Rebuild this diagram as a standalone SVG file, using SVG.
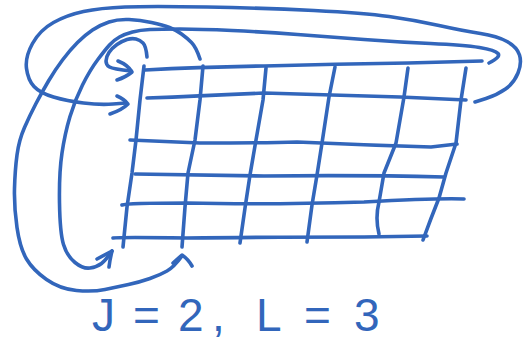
<svg xmlns="http://www.w3.org/2000/svg" width="528" height="349" viewBox="0 0 528 349">
<style>
.s{fill:none;stroke:#3266bb;stroke-width:3.6;stroke-linecap:round;stroke-linejoin:round}
.t{font-family:"Liberation Sans",Arial,sans-serif;font-size:46px;fill:#3266bb}
</style>
<rect width="528" height="349" fill="#fff"/>
<g id="grid">
<path class="s" d="M145,70 Q200,67 264,66 Q335,64 408,63 L482,61"/>
<path class="s" d="M147,98 Q200,96 264,93 Q331,95 400,97 L466,100"/>
<path class="s" d="M130,140 Q150,141 200,143 Q264,143 297,142 Q364,145 431,147 L457,144"/>
<path class="s" d="M135,174 Q187,175 264,176 Q364,175 444,177"/>
<path class="s" d="M122,205 Q127,203 187,203 Q264,205 364,202 Q437,198 464,199"/>
<path class="s" d="M113,238 Q120,237 187,238 Q264,237 364,237 L427,236"/>
<path class="s" d="M144,66 L140,100 L136,140 L132,173 L127,207 L123,247"/>
<path class="s" d="M203,66 L200,100 L195,140 L188,173 L185,207 L182,247"/>
<path class="s" d="M266,68 L263,100 L256,140 L250,175 L245,208 L240,243"/>
<path class="s" d="M335,67 L329,97 L322,143 L317,175 L312,205 L307,242"/>
<path class="s" d="M408,68 L404,97 L396,143 L384,173 L379,202 Q375,218 379,234"/>
<path class="s" d="M466,68 L461,100 L456,143 L446,173 L439,198 Q431,218 423,240"/>
</g>
<g id="connectors">
<path class="s" d="M475,102 L486,98.5 Q497,95 505.5,89 Q514,83 518,73 Q522,63 519.5,55 Q517,47 507,41.5 Q497,36 480.5,33.5 Q464,31 439,25.5 Q414,20 389,16.5 Q364,13 314,10.5 Q264,8 207,7 Q150,6 125,7 Q100,8 83.5,11.5 Q67,15 53.5,22.5 Q40,30 32.5,43.5 Q25,57 26.5,68.5 Q28,80 34,86.5 Q40,93 53.5,97 Q67,101 83.5,103 Q100,105 113,104 L126,103"/>
<path class="s" d="M117,96 Q124,99 128,104 Q122,110 110,114"/>
<path class="s" d="M200,59 Q196,47 191.5,42.5 Q187,38 181.5,34 Q176,30 169.5,27.5 Q163,25 151.5,22.5 Q140,20 129,19.5 Q118,19 109,22 Q100,25 92.5,30 Q85,35 77.5,42.5 Q70,50 62.5,60 Q55,70 48.5,81 Q42,92 36,103.5 Q30,115 24.5,127.5 Q19,140 17,155 Q15,170 14.5,188.5 Q14,207 17,227.5 Q20,248 26.5,259 Q33,270 46.5,279.5 Q60,289 76.5,290.5 Q93,292 105,289.5 Q117,287 128.5,284.5 Q140,282 150,278.5 Q160,275 167,271 Q174,267 182,256"/>
<path class="s" d="M173,263 L182,255 Q188,259 192,266"/>
<path class="s" d="M489,63 Q501,57 498,53.5 Q495,50 479.5,47.5 Q464,45 430.5,43.5 Q397,42 364,39.5 Q331,37 297.5,34.5 Q264,32 232,30.5 Q200,29 180,29 Q160,29 150,29.5 Q140,30 132.5,32 Q125,34 119.5,37 Q114,40 109.5,45 Q105,50 97.5,60 Q90,70 82.5,85 Q75,100 70,116.5 Q65,133 62,153 Q59,173 59.5,203 Q60,233 63.5,244.5 Q67,256 75,262.5 Q83,269 90,268 Q97,267 101.5,263.5 Q106,260 112,251"/>
<path class="s" d="M97,259 L112,251 Q110,259 109,267"/>
<path class="s" d="M147,57 Q146,46 143,43 Q140,40 136,39 Q132,38 127,39.5 Q122,41 117,44.5 Q112,48 109,52.5 Q106,57 106,61 Q106,65 109.5,67 Q113,69 131,71"/>
<path class="s" d="M118,61 Q128,65 132,72 Q126,77 117,80"/>
</g>
<g id="label">
<text class="t" y="331"><tspan x="92">J</tspan><tspan x="133">=</tspan><tspan x="178">2</tspan><tspan x="212">,</tspan><tspan x="256">L</tspan><tspan x="304">=</tspan><tspan x="354">3</tspan></text>
</g>
</svg>
